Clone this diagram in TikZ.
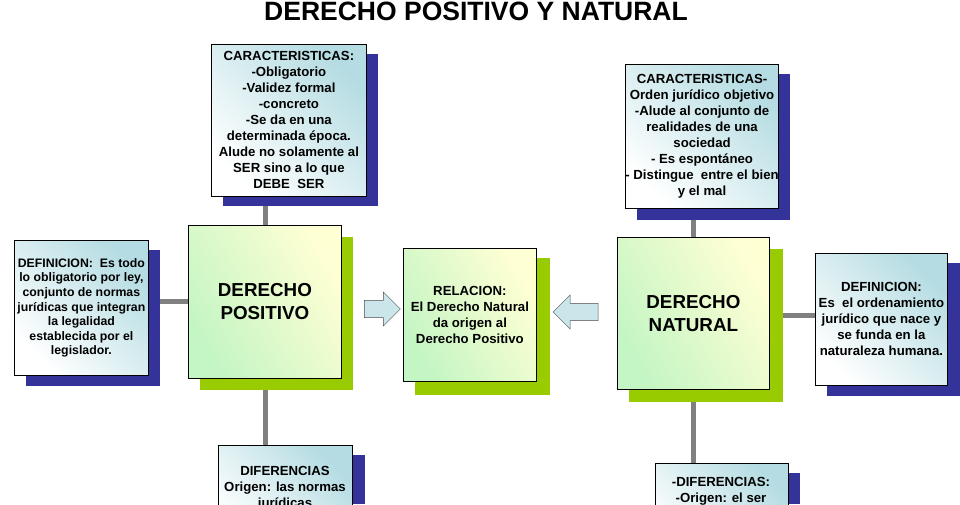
\documentclass[tikz,border=0pt]{standalone}
\usepackage{fontspec}
\setmainfont{Liberation Sans}
\usetikzlibrary{shapes.arrows}
\definecolor{shblue}{HTML}{333399}
\definecolor{shgreen}{HTML}{99CC00}
\definecolor{lnk}{HTML}{808080}
\definecolor{cyanl}{HTML}{B4DCE2}
\definecolor{greenl}{HTML}{C4F5C4}
\definecolor{yell}{HTML}{FFFFD4}
\tikzset{
 info/.style={draw=black,line width=0.8pt,top color=white,bottom color=cyanl,shading angle=135,align=center,font=\bfseries\fontsize{13.2}{16}\selectfont,text=black,inner sep=0pt},
 mainb/.style={draw=black,line width=0.8pt,left color=greenl,right color=yell,shading angle=120,align=center,inner sep=0pt},
 lnkline/.style={lnk,line width=5pt},
 arr/.style={single arrow,draw=black!70,fill=cyanl!70,minimum height=36pt,minimum width=34pt,single arrow head extend=5pt,inner sep=5pt}
}
\begin{document}
\begin{tikzpicture}[x=1pt,y=-1pt]
\useasboundingbox (0,0) rectangle (960,504);
% connectors
\draw[lnkline] (265,196) -- (265,445);
\draw[lnkline] (148,301) -- (188,301);
\draw[lnkline] (693,208) -- (693,463);
\draw[lnkline] (769,315) -- (815,315);
% shadows
\fill[shblue] (223,54) rectangle (378,206);
\fill[shblue] (26,250) rectangle (160,386);
\fill[shblue] (230,455) rectangle (365,504);
\fill[shblue] (637,74) rectangle (790,220);
\fill[shblue] (827,263) rectangle (960,396);
\fill[shblue] (667,473) rectangle (800,504);
\fill[shgreen] (200,237) rectangle (353,390);
\fill[shgreen] (415,258) rectangle (550,395);
\fill[shgreen] (629,249) rectangle (783,402);
% title
\node (title) at (476,11) {\bfseries\fontsize{26.5}{30}\selectfont DERECHO POSITIVO Y NATURAL};
% boxes
\node[info,minimum width=155pt,minimum height=152pt,anchor=north west] (c1) at (211,44) {CARACTERISTICAS:\\-Obligatorio\\-Validez formal\\-concreto\\-Se da en una\\determinada época.\\Alude no solamente al\\SER sino a lo que\\DEBE\ \ SER};
\node[info,minimum width=152pt,minimum height=144pt,anchor=north west] (c2) at (625,64) {CARACTERISTICAS-\\Orden jurídico objetivo\\-Alude al conjunto de\\realidades de una\\sociedad\\- Es espontáneo\\- Distingue\ \ entre el bien\\y el mal};
\node[info,minimum width=134pt,minimum height=135pt,anchor=north west,font=\bfseries\fontsize{12.3}{14.6}\selectfont] (d1) at (14,240) {DEFINICION:\ \ Es todo\\lo obligatorio por ley,\\conjunto de normas\\jurídicas que integran\\la legalidad\\establecida por el\\legislador.};
\node[info,minimum width=132pt,minimum height=132pt,anchor=north west] (d2) at (815,253) {DEFINICION:\\Es\ \ el ordenamiento\\jurídico que nace y\\se funda en la\\naturaleza humana.};
\begin{scope}
\clip (0,0) rectangle (960,504);
\node[info,minimum width=134pt,minimum height=100pt,anchor=north west] (f1) at (218,445) {};
\node[info,minimum width=133pt,minimum height=90pt,anchor=north west] (f2) at (655,463) {};
\node[font=\bfseries\fontsize{13.2}{16}\selectfont,align=center,anchor=north] (f1t) at (285,463) {DIFERENCIAS\\Origen: las normas\\jurídicas};
\node[font=\bfseries\fontsize{13.2}{16}\selectfont,align=center,anchor=north] (f2t) at (721,474) {-DIFERENCIAS:\\-Origen: el ser};
\end{scope}
\node[mainb,minimum width=153pt,minimum height=153pt,anchor=north west,font=\bfseries\fontsize{18.8}{23}\selectfont] (p) at (188,225) {DERECHO\\POSITIVO};
\node[mainb,minimum width=152pt,minimum height=152pt,anchor=north west,font=\bfseries\fontsize{18.8}{23}\selectfont] (n) at (617,237) {DERECHO\\NATURAL};
\node[mainb,minimum width=133pt,minimum height=133pt,anchor=north west,font=\bfseries\fontsize{13.2}{16}\selectfont] (r) at (403,248) {RELACION:\\El Derecho Natural\\da origen al\\Derecho Positivo};
\node[arr,shape border rotate=0,minimum height=36pt] (a1) at (378,309) {};
\node[arr,shape border rotate=180,minimum height=45pt] (a2) at (580,312) {};
\end{tikzpicture}
\end{document}
